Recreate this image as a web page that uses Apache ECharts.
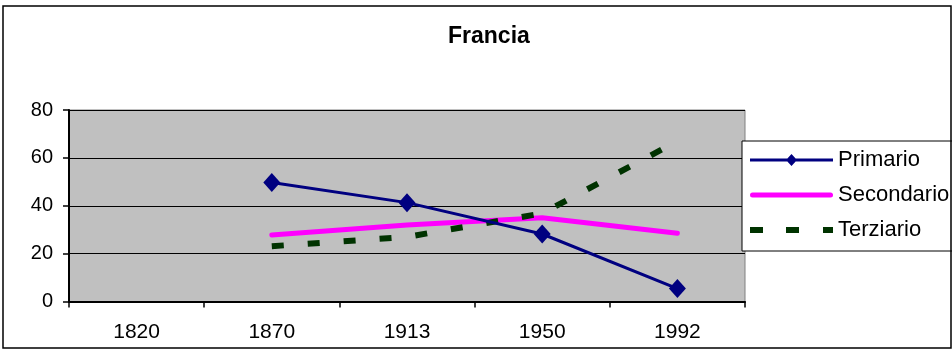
<!DOCTYPE html>
<html>
<head>
<meta charset="utf-8">
<title>Francia</title>
<script src="https://cdn.jsdelivr.net/npm/echarts@6/dist/echarts.min.js"></script>
<style>
  html, body { margin: 0; padding: 0; background: #ffffff; }
  #chart { width: 952px; height: 349px; }
</style>
</head>
<body>
<div id="chart"></div>
<script>
// Sector shares of employment in France (%)
const years = ['1820', '1870', '1913', '1950', '1992'];
const primario = [null, 49.7, 41.3, 28.2, 5.4];
const secondario = [null, 27.8, 32.0, 35.0, 28.5];
const terziario = [null, 23.1, 27.0, 36.8, 67.0];
const yTicks = { min: 0, max: 80, step: 20 };

const FONT = '"Liberation Sans", Arial, sans-serif';
const NAVY = '#000080', MAGENTA = '#FF00FF', DARKGREEN = '#003300';

// Legend keys drawn as paths: line with diamond, solid thick line, dashed line
const ICON_PRIMARIO = 'path://M0,5.5h83v3h-83z M41.5,1L47,7L41.5,13L36,7Z';
const ICON_SECONDARIO = 'path://M2.5,0h78a2.5,2.5 0 0 1 0,5h-78a2.5,2.5 0 0 1 0,-5z';
const ICON_TERZIARIO = 'path://M0,0h13v6h-13z M36,0h13v6h-13z M73,0h10v6h-10z';

const chart = echarts.init(document.getElementById('chart'), null, { renderer: 'canvas' });

chart.setOption({
  animation: false,
  backgroundColor: '#ffffff',
  textStyle: { fontFamily: FONT, color: '#000' },
  graphic: [{
    type: 'rect',
    shape: { x: 3, y: 6, width: 948, height: 342 },
    style: { fill: 'none', stroke: '#000', lineWidth: 1.5 },
    silent: true,
    z: 100
  }],
  title: {
    text: 'Francia',
    left: 443,
    top: 20,
    textStyle: { fontFamily: FONT, fontSize: 23, fontWeight: 'bold', color: '#000' }
  },
  legend: {
    orient: 'vertical',
    left: 742,
    top: 141,
    padding: [8, 10, 10, 8],
    itemWidth: 83,
    itemHeight: 20,
    itemGap: 13,
    backgroundColor: '#ffffff',
    borderColor: '#000',
    borderWidth: 1,
    textStyle: { fontFamily: FONT, fontSize: 22, color: '#000', lineHeight: 20 },
    data: [
      { name: 'Primario', icon: ICON_PRIMARIO, itemStyle: { color: NAVY, borderWidth: 0 } },
      { name: 'Secondario', icon: ICON_SECONDARIO, itemStyle: { color: MAGENTA, borderWidth: 0 } },
      { name: 'Terziario', icon: ICON_TERZIARIO, itemStyle: { color: DARKGREEN, borderWidth: 0 } }
    ]
  },
  grid: {
    left: 69, top: 110, right: 207, bottom: 47.5,
    show: true,
    backgroundColor: '#C0C0C0',
    borderColor: '#808080',
    borderWidth: 1
  },
  xAxis: {
    type: 'category',
    data: years,
    boundaryGap: true,
    axisLine: { lineStyle: { color: '#000', width: 2 } },
    axisTick: { show: true, interval: 0, length: 6, lineStyle: { color: '#000', width: 1.5 } },
    axisLabel: { fontFamily: FONT, fontSize: 21, color: '#000', margin: 20, interval: 0 },
    splitLine: { show: false }
  },
  yAxis: {
    type: 'value',
    min: yTicks.min,
    max: yTicks.max,
    interval: yTicks.step,
    axisLine: { show: true, lineStyle: { color: '#000', width: 2 } },
    axisTick: { show: true, length: 6, lineStyle: { color: '#000', width: 1.5 } },
    axisLabel: { fontFamily: FONT, fontSize: 20, color: '#000', margin: 16 },
    splitLine: { show: true, lineStyle: { color: '#000', width: 1 } }
  },
  series: [
    {
      name: 'Primario',
      type: 'line',
      data: primario,
      connectNulls: false,
      symbol: 'diamond',
      symbolSize: [17, 19],
      color: NAVY,
      itemStyle: { color: NAVY },
      lineStyle: { color: NAVY, width: 3 },
      z: 3
    },
    {
      name: 'Secondario',
      type: 'line',
      data: secondario,
      connectNulls: false,
      symbol: 'none',
      color: MAGENTA,
      lineStyle: { color: MAGENTA, width: 5, cap: 'round' },
      z: 2
    },
    {
      name: 'Terziario',
      type: 'line',
      data: terziario,
      connectNulls: false,
      symbol: 'none',
      color: DARKGREEN,
      lineStyle: { color: DARKGREEN, width: 6, type: [12, 24], cap: 'butt' },
      z: 2
    }
  ]
});
</script>
</body>
</html>
